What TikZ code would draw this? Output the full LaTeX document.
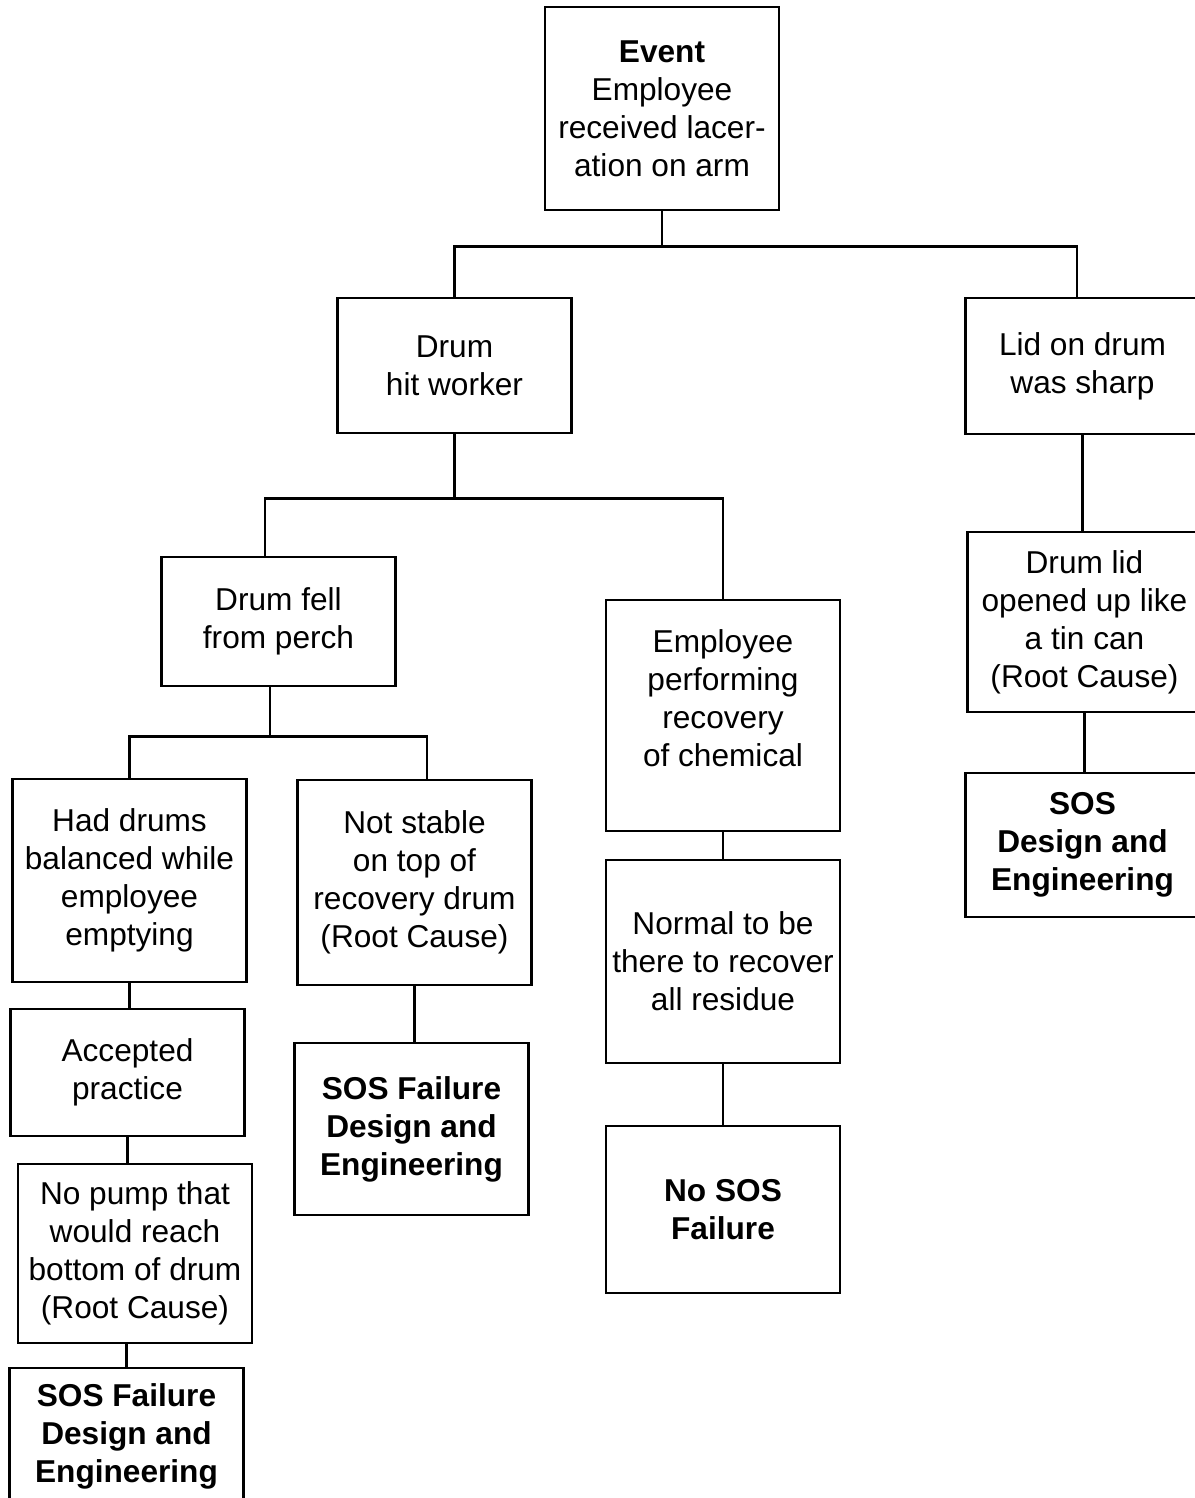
\documentclass[tikz,border=0pt]{standalone}
\usepackage{fontspec}
\setmainfont{Liberation Sans}
\begin{document}
\begin{tikzpicture}[
        % one unit = one pixel of the sheet
        x=0.02cm, y=-0.02cm,
        every node/.style={font=\fontsize{18}{21.6}\selectfont},
        % Box Styles
        causebox/.style={
            rectangle,
            draw=black,
            line width=1.6pt,
            fill=white,
            align=center,
            inner sep=0pt,
            minimum width=4.68cm
        },
        outcomebox/.style={
            causebox,
            font=\fontsize{18}{21.6}\selectfont\bfseries
        },
        % Connector Styles
        link/.style={line width=1.6pt, draw=black}
    ]
    \useasboundingbox (0,0) rectangle (1195,1498);
    \clip (0,0) rectangle (1195,1498);

    % --- Event (Top) ---
    \node[causebox, minimum height=4.06cm] (event) at (662, 108.5) {
        \textbf{Event}\\Employee\\received lacer-\\ation on arm
    };

    % --- First Level ---
    \node[causebox, minimum height=2.70cm] (hitworker) at (454.5, 365.5) {Drum\\hit worker};
    \node[causebox, minimum height=2.72cm] (sharplid) at (1082.5, 366) {Lid on drum\\was sharp};

    % --- Left Branch ---
    \node[causebox, minimum height=2.58cm] (fell) at (278.5, 621.5) {Drum fell\\from perch};
    \node[causebox, minimum height=4.62cm] (recovery) at (723, 715.5) {
        Employee\\performing\\recovery\\of chemical\\[-0.06cm]\mbox{}
    };
    \node[causebox, minimum height=4.06cm] (balanced) at (129.5, 880.5) {
        Had drums\\balanced while\\employee\\emptying
    };
    \node[causebox, minimum height=4.10cm] (unstable) at (414.5, 882.5) {
        Not stable\\on top of\\recovery drum\\(Root Cause)
    };
    \node[causebox, minimum height=4.06cm] (normal) at (723, 961.5) {
        Normal to be\\there to recover\\all residue
    };
    \node[causebox, minimum height=2.54cm] (practice) at (127.5, 1072.5) {Accepted\\practice};
    \node[outcomebox, minimum height=3.44cm] (sosmid) at (411.5, 1129) {
        SOS Failure\\Design and\\Engineering
    };
    \node[outcomebox, minimum height=3.34cm] (nosos) at (723, 1209.5) {No SOS\\Failure};
    \node[causebox, minimum height=3.58cm] (nopump) at (135, 1253.5) {
        No pump that\\would reach\\bottom of drum\\(Root Cause)
    };
    \node[outcomebox, minimum height=2.72cm] (sosbottom) at (126.5, 1436) {
        SOS Failure\\Design and\\Engineering
    };

    % --- Right Branch ---
    \node[causebox, minimum height=3.60cm] (tincan) at (1084.5, 622) {
        Drum lid\\opened up like\\a tin can\\(Root Cause)
    };
    \node[outcomebox, minimum height=2.88cm] (sosright) at (1082.5, 845) {
        SOS\\Design and\\Engineering
    };

    % --- Paths & Connections ---
    \draw[link] (event.south) -- ++(0,35) coordinate (split1);
    \draw[link] (hitworker.north) |- (split1) -| ([xshift=-0.11cm]sharplid.north);

    \draw[link] (hitworker.south) -- ++(0,64) coordinate (split2);
    \draw[link] ([xshift=-0.27cm]fell.north) |- (split2) -| (recovery.north);

    \draw[link] ([xshift=-0.17cm]fell.south) -- ++(0,49) coordinate (split3);
    \draw[link] (balanced.north) |- (split3) -| ([xshift=0.25cm]unstable.north);

    \draw[link] (balanced.south) -- (balanced.south |- practice.north);
    \draw[link] (practice.south) -- (practice.south |- nopump.north);
    \draw[link] (sosbottom.north |- nopump.south) -- (sosbottom.north);
    \draw[link] (unstable.south) -- (unstable.south |- sosmid.north);
    \draw[link] (recovery.south) -- (normal.north);
    \draw[link] (normal.south) -- (nosos.north);
    \draw[link] (sharplid.south) -- (sharplid.south |- tincan.north);
    \draw[link] (tincan.south) -- (tincan.south |- sosright.north);

\end{tikzpicture}
\end{document}
